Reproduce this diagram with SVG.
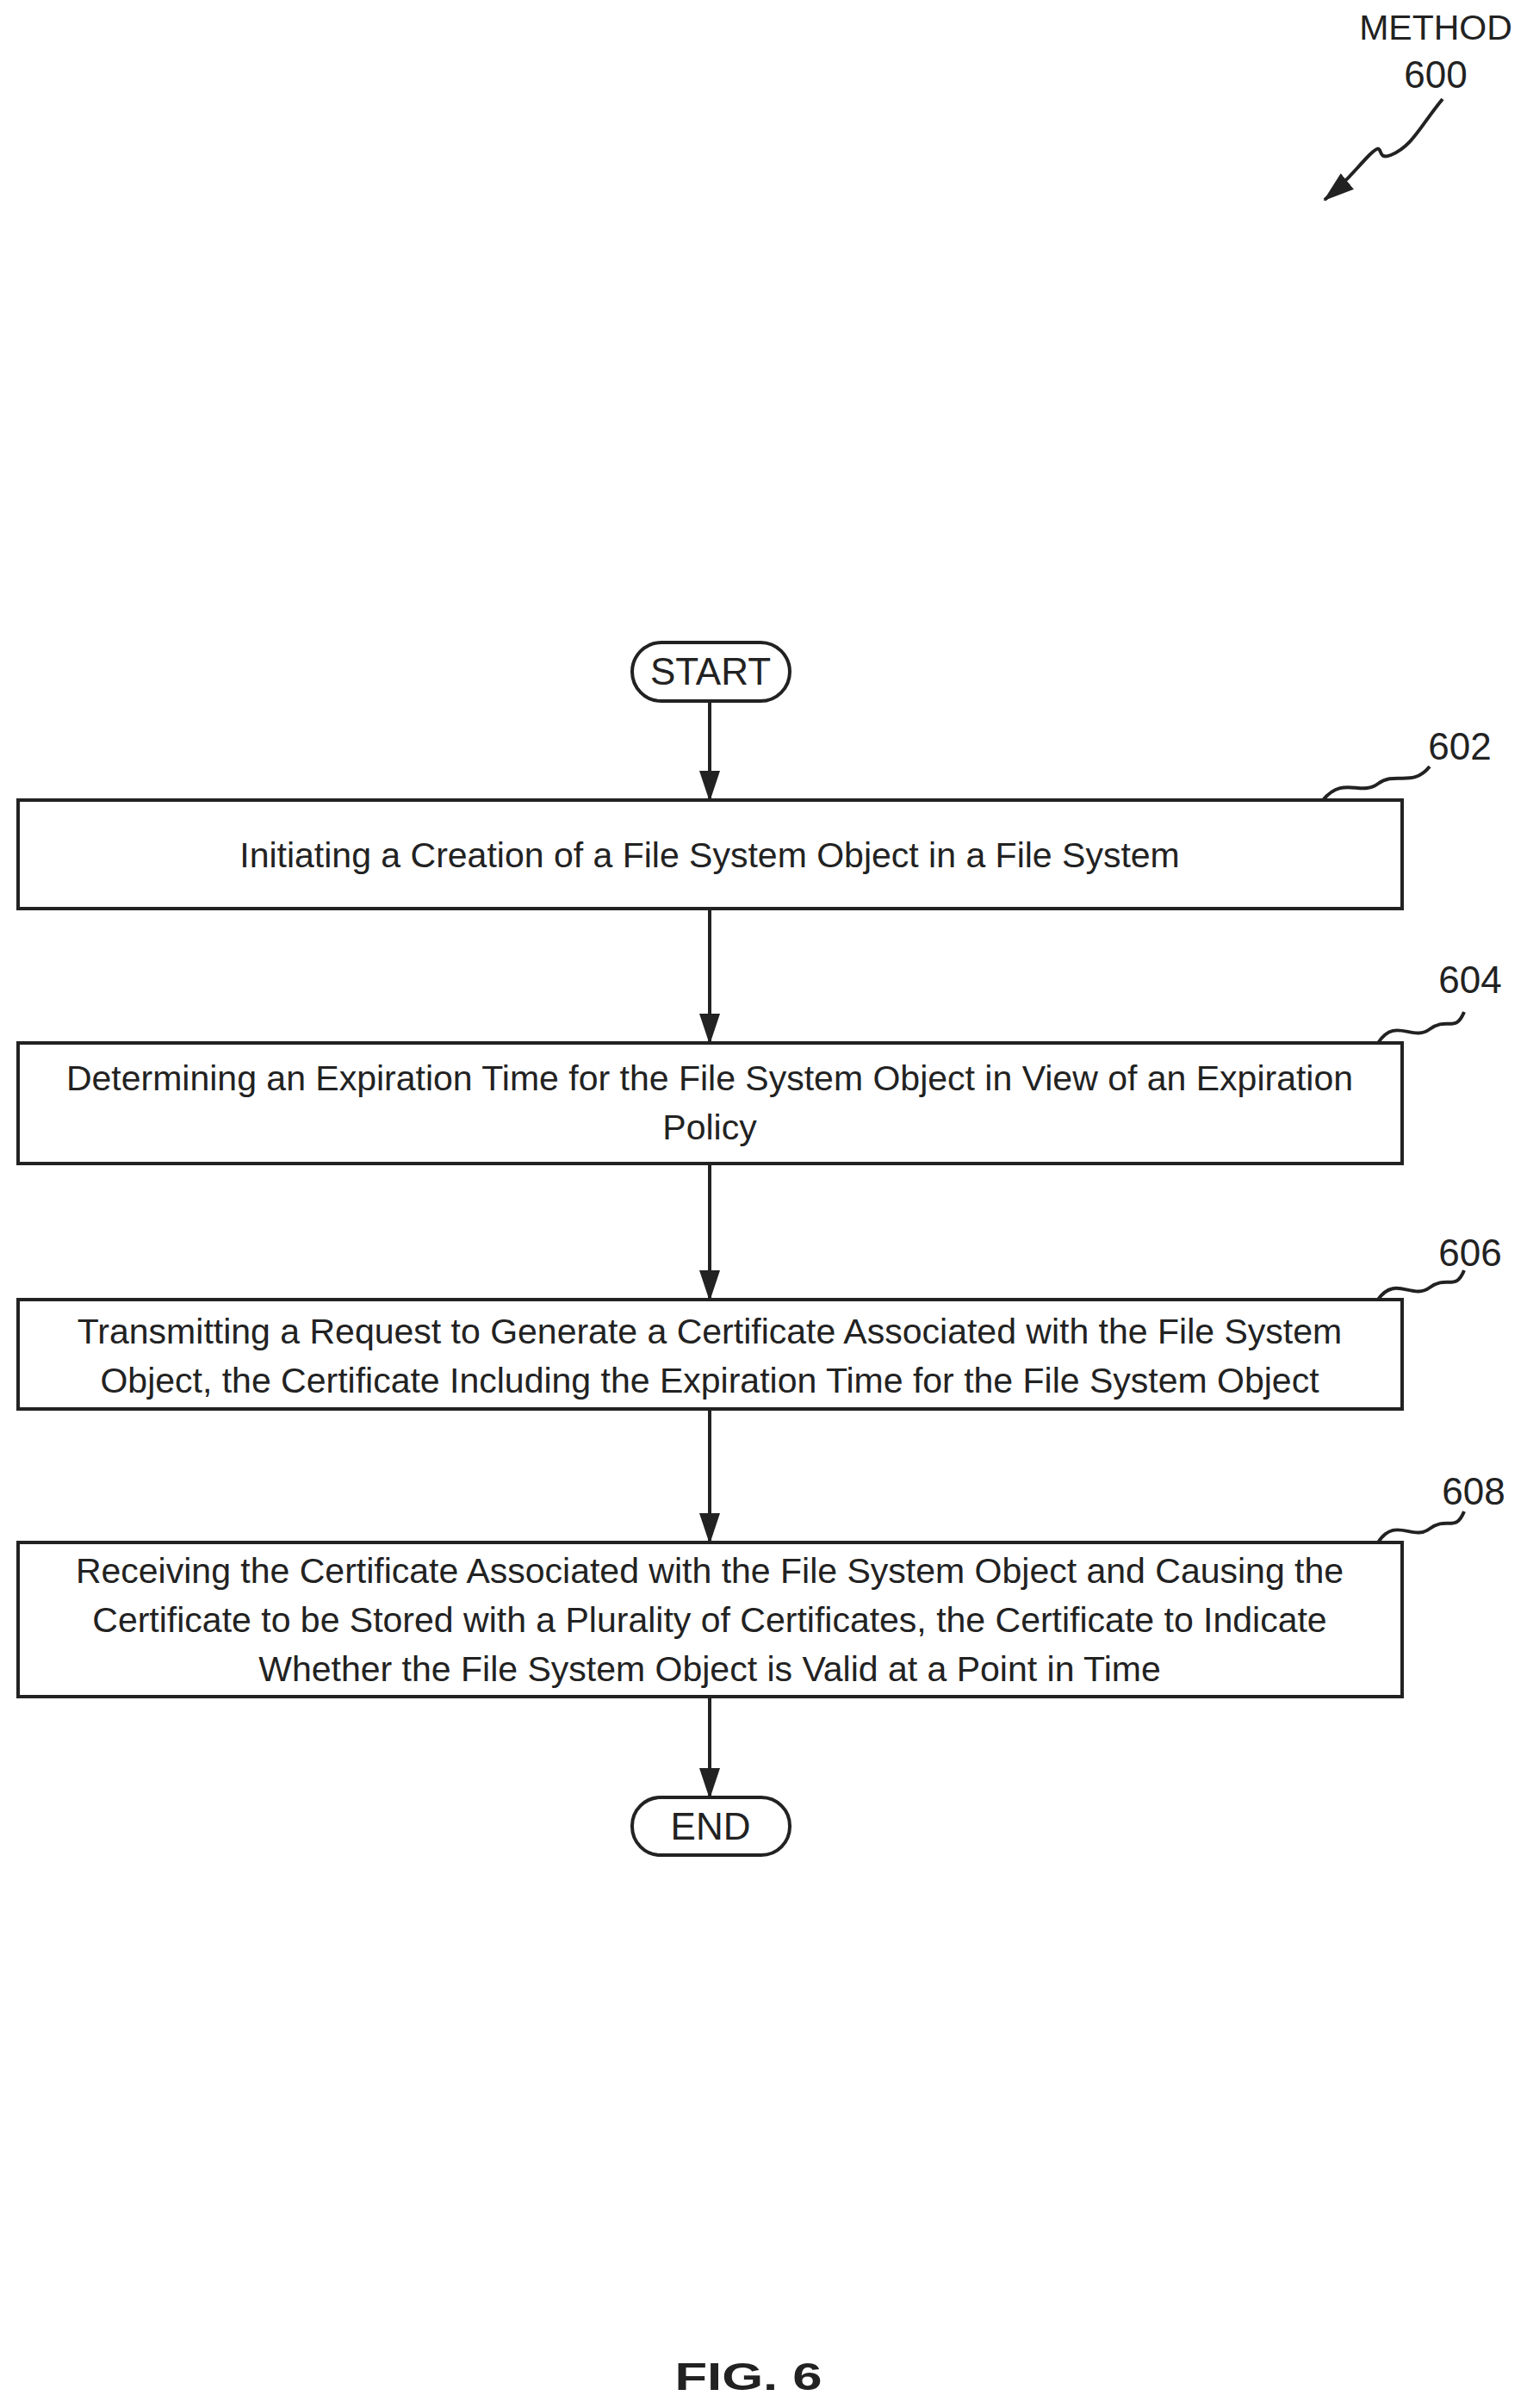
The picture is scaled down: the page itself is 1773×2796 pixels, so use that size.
<svg xmlns="http://www.w3.org/2000/svg" width="1773" height="2796" viewBox="0 0 1773 2796">
<style>
.b{fill:#fff;stroke:#222;stroke-width:4}
.t{font-family:"Liberation Sans",Arial,sans-serif;font-size:41px;fill:#222;text-anchor:middle}
.l{font-family:"Liberation Sans",Arial,sans-serif;font-size:44px;fill:#222;text-anchor:middle}
.c{fill:none;stroke:#222;stroke-width:4}
</style>
<defs>
<marker id="ah" markerWidth="36" markerHeight="36" refX="34" refY="18" orient="auto" markerUnits="userSpaceOnUse" viewBox="0 0 36 36"><path d="M0,6 L36,18 L0,30 z" fill="#222"/></marker></defs>
<g id="label600">
<text x="1667" y="46" class="t" font-size="34">METHOD</text>
<text x="1667" y="102" class="l" font-size="48">600</text>
<path class="c" d="M1675,115 C1650,145 1640,170 1615,180 C1595,188 1610,160 1590,180 C1575,195 1565,210 1538,232" marker-end="url(#ah)"/>
</g>
<g id="connectors">
<line class="c" x1="824" y1="814" x2="824" y2="929" marker-end="url(#ah)"/>
<line class="c" x1="824" y1="1055" x2="824" y2="1211" marker-end="url(#ah)"/>
<line class="c" x1="824" y1="1351" x2="824" y2="1509" marker-end="url(#ah)"/>
<line class="c" x1="824" y1="1636" x2="824" y2="1791" marker-end="url(#ah)"/>
<line class="c" x1="824" y1="1970" x2="824" y2="2087" marker-end="url(#ah)"/>
</g>
<g id="start"><rect class="b" x="734" y="746" width="183" height="68" rx="34"/><text x="825" y="795" class="l">START</text></g>
<g id="n602"><rect class="b" x="21" y="929" width="1607" height="126"/><text x="824" y="1007" class="t">Initiating a Creation of a File System Object in a File System</text>
<path class="c" d="M1536,929 C1560,900 1580,925 1600,910 C1620,895 1640,915 1660,890"/><text x="1695" y="882" class="l">602</text></g>
<g id="n604"><rect class="b" x="21" y="1211" width="1607" height="140"/><text x="824" y="1266" class="t">Determining an Expiration Time for the File System Object in View of an Expiration</text><text x="824" y="1323" class="t">Policy</text>
<path class="c" d="M1600,1211 C1620,1180 1640,1210 1660,1195 C1680,1180 1690,1200 1700,1175"/><text x="1707" y="1153" class="l">604</text></g>
<g id="n606"><rect class="b" x="21" y="1509" width="1607" height="127"/><text x="824" y="1560" class="t">Transmitting a Request to Generate a Certificate Associated with the File System</text><text x="824" y="1617" class="t">Object, the Certificate Including the Expiration Time for the File System Object</text>
<path class="c" d="M1600,1509 C1620,1480 1640,1510 1660,1495 C1680,1480 1690,1500 1700,1475"/><text x="1707" y="1470" class="l">606</text></g>
<g id="n608"><rect class="b" x="21" y="1791" width="1607" height="179"/><text x="824" y="1838" class="t">Receiving the Certificate Associated with the File System Object and Causing the</text><text x="824" y="1895" class="t">Certificate to be Stored with a Plurality of Certificates, the Certificate to Indicate</text><text x="824" y="1952" class="t">Whether the File System Object is Valid at a Point in Time</text>
<path class="c" d="M1600,1791 C1620,1760 1640,1790 1660,1775 C1680,1760 1690,1780 1700,1755"/><text x="1711" y="1747" class="l">608</text></g>
<g id="end"><rect class="b" x="734" y="2087" width="183" height="67" rx="33"/><text x="825" y="2136" class="l">END</text></g>
<text x="869" y="2775" class="l" font-size="72" font-weight="bold" transform="translate(869 2775) scale(1.4 1) translate(-869 -2775)">FIG. 6</text>
</svg>
